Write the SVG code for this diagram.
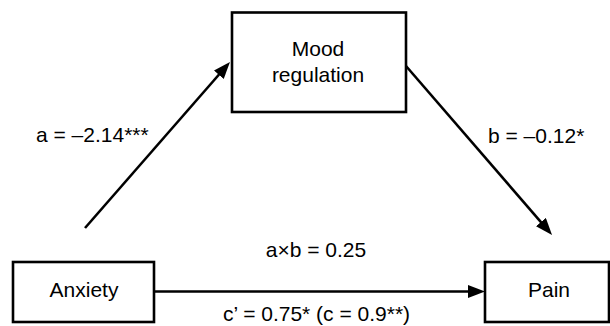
<svg xmlns="http://www.w3.org/2000/svg" width="610" height="326" viewBox="0 0 610 326">
<defs>
<style>
.box{fill:#fff;stroke:#000;stroke-width:2.6}
.t{font-family:"Liberation Sans",Arial,sans-serif;font-size:21px;fill:#000}
.m{text-anchor:middle}
.edge{stroke:#000;stroke-width:2.6;fill:none;marker-end:url(#ah)}
</style>
<marker id="ah" markerUnits="userSpaceOnUse" markerWidth="18" markerHeight="14" refX="7" refY="6.5" orient="auto">
<path d="M0,0 L17,6.5 L0,13 z" fill="#000"/>
</marker>
</defs>
<rect width="610" height="326" fill="#fff"/>
<g id="connectors">
<line class="edge" x1="85" y1="228" x2="223.4" y2="69.5"/>
<line class="edge" x1="406" y1="66" x2="545.5" y2="227.4"/>
<line class="edge" x1="154" y1="291.5" x2="475" y2="291.5"/>
</g>
<g id="mood">
<rect class="box" x="232" y="12.5" width="174" height="99.5"/>
<text class="t m" x="318" y="56">Mood</text>
<text class="t m" x="318" y="82">regulation</text>
</g>
<g id="anxiety">
<rect class="box" x="13" y="262" width="141" height="60"/>
<text class="t m" x="84" y="297">Anxiety</text>
</g>
<g id="pain">
<rect class="box" x="485" y="262" width="124" height="60"/>
<text class="t m" x="549" y="297">Pain</text>
</g>
<g id="labels">
<text class="t" x="36" y="142">a = –2.14***</text>
<text class="t" x="488" y="143">b = –0.12*</text>
<text class="t m" x="316" y="257">a×b = 0.25</text>
<text class="t m" x="316.5" y="321">c’ = 0.75* (c = 0.9**)</text>
</g>
</svg>
